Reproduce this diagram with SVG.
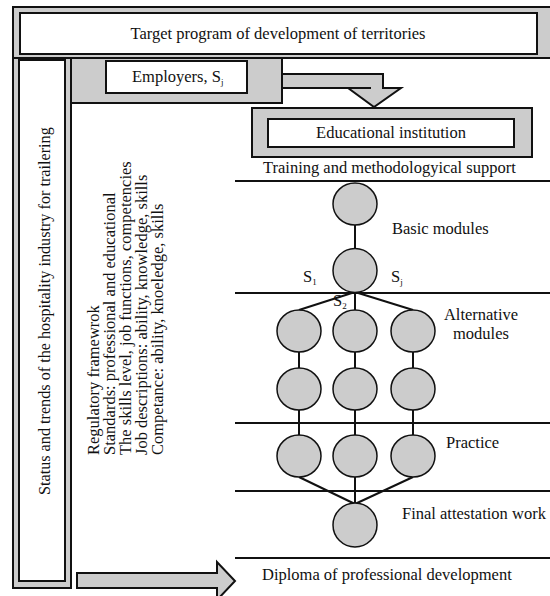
<svg xmlns="http://www.w3.org/2000/svg" width="550" height="596" viewBox="0 0 550 596">
<style>
text{font-family:"Liberation Serif","Times New Roman",serif;font-size:16.5px;fill:#111}
.g{fill:#cccccc;stroke:#111;stroke-width:2}
.w{fill:#ffffff;stroke:#111;stroke-width:2}
.n{fill:#cccccc;stroke:#111;stroke-width:1.5}
.c{stroke:#111;stroke-width:2;fill:none}
.sub{font-size:9px}
</style>
<rect width="550" height="596" fill="#fff"/>
<g id="target">
<rect class="g" x="13" y="7" width="545" height="51"/>
<rect class="w" x="20" y="13" width="517" height="41"/>
<text x="278" y="39" text-anchor="middle">Target program of development of territories</text>
</g>
<g id="status">
<rect class="g" x="13" y="58" width="58" height="530"/>
<rect class="w" x="19" y="60" width="46" height="521"/>
<text transform="translate(49.5,495) rotate(-90)" style="font-size:16.2px">Status and trends of the hospitality industry for trailering</text>
</g>
<g id="employers">
<rect class="g" x="71" y="58" width="211" height="45"/>
<rect class="w" x="106" y="61" width="141" height="32"/>
<text x="132" y="82">Employers, S<tspan class="sub" dy="3">j</tspan></text>
</g>
<g id="education">
<rect class="g" x="252" y="108" width="280" height="49"/>
<rect class="w" x="268" y="119" width="246" height="28"/>
<text x="391" y="138" text-anchor="middle">Educational institution</text>
</g>
<g id="regulatory">
<text transform="translate(98.5,455) rotate(-90)">Regulatory framewrok</text>
<text transform="translate(114.5,455) rotate(-90)">Standards: professional and educational</text>
<text transform="translate(130.5,455) rotate(-90)">The skills level, job functions, competencies</text>
<text transform="translate(146.5,455) rotate(-90)">Job descriptions: ability, knowledge, skills</text>
<text transform="translate(162.5,455) rotate(-90)">Competance: ability, knoeledge, skills</text>
</g>
<g id="stages">
<line class="c" x1="235" y1="181" x2="550" y2="181"/>
<line class="c" x1="235" y1="293" x2="550" y2="293"/>
<line class="c" x1="235" y1="423" x2="550" y2="423"/>
<line class="c" x1="235" y1="491" x2="550" y2="491"/>
<line class="c" x1="235" y1="558" x2="550" y2="558"/>
<text x="263" y="173">Training and methodologyical support</text>
<text x="392" y="234">Basic modules</text>
<text x="481" y="320" text-anchor="middle">Alternative</text>
<text x="481" y="339" text-anchor="middle">modules</text>
<text x="446" y="448">Practice</text>
<text x="402" y="519">Final attestation work</text>
<text x="262" y="580">Diploma of professional development</text>
<text x="303" y="282">S<tspan class="sub" dy="3">1</tspan></text>
<text x="391" y="282">S<tspan class="sub" dy="3">j</tspan></text>
<text x="333" y="306">S<tspan class="sub" dy="3">2</tspan></text>
</g>
<g id="connectors">
<polygon class="g" points="282,74 383,74 383,88 401,88 374,107 348,88 282,88"/>
<line class="c" x1="348" y1="88" x2="371" y2="88"/>
<polygon class="g" points="77,573 217,573 217,562 235,581 217,600 217,588 77,588"/>
<line class="c" x1="355" y1="225" x2="355" y2="249"/>
<line class="c" x1="355" y1="292" x2="299" y2="310"/>
<line class="c" x1="355" y1="292" x2="355" y2="310"/>
<line class="c" x1="355" y1="292" x2="413" y2="310"/>
<line class="c" x1="299" y1="352" x2="299" y2="368"/>
<line class="c" x1="355" y1="352" x2="355" y2="368"/>
<line class="c" x1="413" y1="352" x2="413" y2="368"/>
<line class="c" x1="299" y1="410" x2="299" y2="435"/>
<line class="c" x1="355" y1="410" x2="355" y2="435"/>
<line class="c" x1="413" y1="410" x2="413" y2="435"/>
<line class="c" x1="299" y1="477" x2="355" y2="504"/>
<line class="c" x1="355" y1="477" x2="355" y2="504"/>
<line class="c" x1="413" y1="477" x2="355" y2="504"/>
</g>
<g id="basic-1"><ellipse class="n" cx="355" cy="204" rx="22" ry="21"/></g>
<g id="basic-2"><ellipse class="n" cx="355" cy="270.5" rx="22" ry="22"/></g>
<g id="alt-1a"><ellipse class="n" cx="299" cy="331" rx="22" ry="21"/></g>
<g id="alt-2a"><ellipse class="n" cx="355" cy="331" rx="22" ry="21"/></g>
<g id="alt-3a"><ellipse class="n" cx="413" cy="331" rx="22" ry="21"/></g>
<g id="alt-1b"><ellipse class="n" cx="299" cy="389" rx="22" ry="21"/></g>
<g id="alt-2b"><ellipse class="n" cx="355" cy="389" rx="22" ry="21"/></g>
<g id="alt-3b"><ellipse class="n" cx="413" cy="389" rx="22" ry="21"/></g>
<g id="practice-1"><ellipse class="n" cx="299" cy="456" rx="22" ry="21"/></g>
<g id="practice-2"><ellipse class="n" cx="355" cy="456" rx="22" ry="21"/></g>
<g id="practice-3"><ellipse class="n" cx="413" cy="456" rx="22" ry="21"/></g>
<g id="final"><ellipse class="n" cx="355" cy="525" rx="22" ry="22"/></g>
</svg>
